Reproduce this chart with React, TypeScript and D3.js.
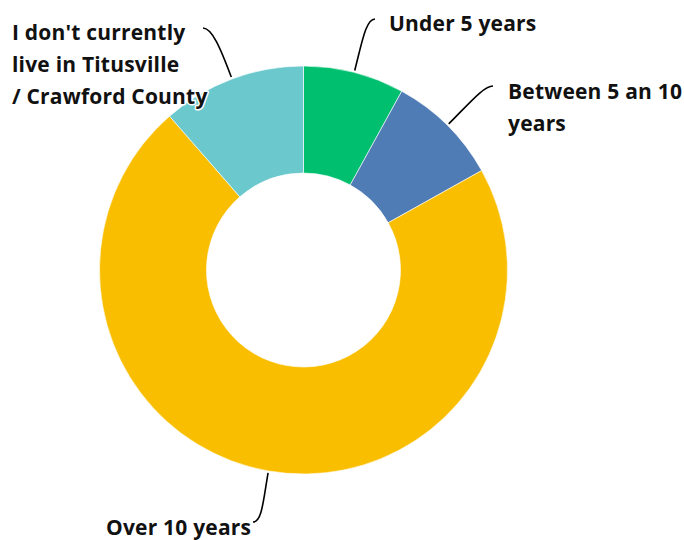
import React, { useRef, useEffect } from 'react';
import * as d3 from 'd3';

// slice order clockwise from 12 o'clock
const categories = ['Under 5 years', 'Between 5 an 10 years', 'Over 10 years', "I don't currently live in Titusville / Crawford County"];
const values = [8.0, 8.9, 71.7, 11.4];
const colors = ['#00BF6F', '#507CB6', '#F9BE00', '#6BC8CD'];

// label lines as wrapped in the picture
const labelLines = [
  ['Under 5 years'],
  ['Between 5 an 10', 'years'],
  ['Over 10 years'],
  ["I don't currently", 'live in Titusville', '/ Crawford County'],
];

// label layout: text start x, first baseline y, leader end point, hook direction
const labelLayout = [
  { x: 389, y: 31, ex: 375, ey: 19, hook: 1 },
  { x: 508, y: 99, ex: 493, ey: 86, hook: 1 },
  { x: 106, y: 535, ex: 253, ey: 522, hook: -1 },
  { x: 12, y: 40, ex: 203, ey: 28, hook: -1 },
];

interface Slice {
  name: string;
  value: number;
  color: string;
}

const App: React.FC = () => {
  const ref = useRef<SVGSVGElement>(null);
  const width = 684;
  const height = 540;

  useEffect(() => {
    if (!ref.current) return;
    const svg = d3.select(ref.current);
    svg.selectAll('*').remove();

    const cx = 303.5;
    const cy = 270;
    const outerR = 204;
    const innerR = 97;

    const data: Slice[] = categories.map((c, i) => ({ name: c, value: values[i], color: colors[i] }));

    const pie = d3.pie<Slice>().sort(null).value(d => d.value);
    const arcs = pie(data);
    const arc = d3.arc<d3.PieArcDatum<Slice>>().innerRadius(innerR).outerRadius(outerR);

    const g = svg.append('g').attr('transform', `translate(${cx},${cy})`);

    g.selectAll('path.slice')
      .data(arcs)
      .enter()
      .append('path')
      .attr('class', 'slice')
      .attr('d', arc)
      .attr('fill', d => d.data.color)
      .attr('stroke', '#fff')
      .attr('stroke-width', 0.6);

    // leader lines
    arcs.forEach((a, i) => {
      const lay = labelLayout[i];
      const mid = (a.startAngle + a.endAngle) / 2;
      const sx = Math.sin(mid);
      const sy = -Math.cos(mid);
      const x0 = cx + sx * (outerR + 2);
      const y0 = cy + sy * (outerR + 2);
      const dist = Math.hypot(lay.ex - x0, lay.ey - y0);
      const x1 = x0 + sx * dist * 0.55;
      const y1 = y0 + sy * dist * 0.55;
      const x2 = lay.ex - lay.hook * 9;
      const y2 = lay.ey;
      const p = d3.path();
      p.moveTo(x0, y0);
      p.bezierCurveTo(x1, y1, x2, y2, lay.ex, lay.ey);
      svg.append('path')
        .attr('d', p.toString())
        .attr('fill', 'none')
        .attr('stroke', '#000')
        .attr('stroke-width', 1.6);
    });

    // labels
    labelLines.forEach((lines, i) => {
      const lay = labelLayout[i];
      const t = svg.append('text')
        .attr('x', lay.x)
        .attr('y', lay.y)
        .attr('font-family', '"Open Sans", sans-serif')
        .attr('font-weight', 700)
        .attr('font-size', 21)
        .attr('letter-spacing', 0.2)
        .attr('fill', '#111')
        .attr('stroke', '#fff')
        .attr('stroke-width', 3)
        .attr('stroke-linejoin', 'round')
        .style('paint-order', 'stroke');
      lines.forEach((ln, j) => {
        t.append('tspan').attr('x', lay.x).attr('y', lay.y + j * 32).text(ln);
      });
    });
  }, []);

  return (
    <div style={{ position: 'absolute', left: 0, top: 0, background: '#fff' }}>
      <svg ref={ref} width={width} height={height} />
    </div>
  );
};

export default App;
